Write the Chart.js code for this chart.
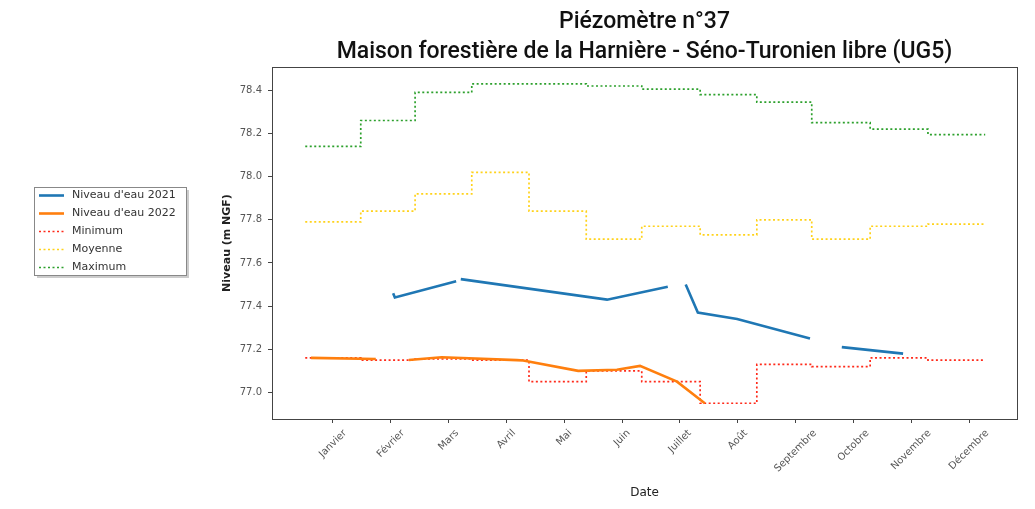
<!DOCTYPE html>
<html>
<head>
<meta charset="utf-8">
<script src="https://cdn.jsdelivr.net/npm/chart.js@4.4.1/dist/chart.umd.min.js"></script>
<style>
html,body{margin:0;padding:0;background:#fff;}
</style>
</head>
<body>
<canvas id="myChart" width="1035" height="509"></canvas>
<script>
// mois (positions 1..12 sur l'axe x)
const months = ['Janvier','Février','Mars','Avril','Mai','Juin','Juillet','Août','Septembre','Octobre','Novembre','Décembre'];
const monthTicks = [1,2,3,4,5,6,7,8,9,10,11,12];
const yTicks = [77.0,77.2,77.4,77.6,77.8,78.0,78.2,78.4];

// bords des paliers mensuels (min / moyenne / max)
const stepEdges = [0.52,1.48,2.42,3.40,4.39,5.38,6.34,7.35,8.33,9.28,10.29,11.29,12.28];
const minimum = [77.16,77.15,77.155,77.15,77.05,77.10,77.05,76.95,77.13,77.12,77.16,77.15];
const moyenne = [77.79,77.84,77.92,78.02,77.84,77.71,77.77,77.73,77.80,77.71,77.77,77.78];
const maximum = [78.14,78.26,78.39,78.43,78.43,78.42,78.405,78.38,78.345,78.25,78.22,78.195];

// mesures 2021 et 2022 (null = pas de mesure)
const dates2021 = [2.04,2.07,3.13,3.17,3.21,5.74,6.79,6.95,7.10,7.31,7.99,9.25,9.5,9.80,10.86];
const niveau2021 = [77.46,77.44,77.515,null,77.525,77.43,77.49,null,77.50,77.37,77.34,77.25,null,77.21,77.18];
const dates2022 = [0.62,1.74,2.0,2.31,2.88,4.18,4.29,5.24,5.91,6.31,6.95,7.43];
const niveau2022 = [77.16,77.155,null,77.15,77.163,77.15,77.148,77.10,77.105,77.123,77.05,76.95];

function pts(xs, ys){ return xs.map((x,i)=>({x:x,y:ys[i]})); }
function steps(vals){
  const p = vals.map((v,i)=>({x:stepEdges[i],y:v}));
  p.push({x:stepEdges[vals.length],y:vals[vals.length-1]});
  return p;
}

const frame = {
  id:'frame',
  afterDraw(chart){
    const a = chart.chartArea, ctx = chart.ctx;
    ctx.save();
    ctx.strokeStyle='#444'; ctx.lineWidth=1;
    ctx.strokeRect(Math.round(a.left)+0.5, Math.round(a.top)+0.5, Math.round(a.right-a.left), Math.round(a.bottom-a.top));
    ctx.restore();
  }
};

const monthLabels = {
  id:'monthLabels',
  afterDraw(chart){
    const sx = chart.scales.x, ctx = chart.ctx;
    const top = chart.chartArea.bottom + 9;
    ctx.save();
    ctx.font='10px "DejaVu Sans"'; ctx.fillStyle='#555';
    ctx.textAlign='center'; ctx.textBaseline='middle';
    sx.ticks.forEach((t,i)=>{
      const txt = months[i];
      const w = ctx.measureText(txt).width, h = 10;
      const x = sx.getPixelForValue(t.value);
      const y = top + (w+h)*Math.SQRT1_2/2;
      ctx.save(); ctx.translate(x,y); ctx.rotate(-Math.PI/4); ctx.fillText(txt,0,0); ctx.restore();
    });
    ctx.restore();
  }
};

const legendBox = {
  id:'legendBox',
  afterDraw(chart){
    const ctx = chart.ctx;
    ctx.save();
    ctx.fillStyle='#ccc'; ctx.fillRect(37,190,152,88);
    ctx.fillStyle='#fff'; ctx.fillRect(34.5,187.5,152,88);
    ctx.strokeStyle='#888'; ctx.lineWidth=1; ctx.strokeRect(34.5,187.5,152,88);
    chart.data.datasets.forEach((ds,i)=>{
      const y = 195.5 + i*18;
      ctx.beginPath();
      ctx.setLineDash(ds.borderDash || []);
      ctx.strokeStyle = ds.borderColor; ctx.lineWidth = ds.borderWidth;
      ctx.moveTo(39,y); ctx.lineTo(64,y); ctx.stroke();
      ctx.setLineDash([]);
      ctx.fillStyle='#333'; ctx.font='11px "DejaVu Sans"'; ctx.textBaseline='middle';
      ctx.fillText(ds.label,72,y);
    });
    ctx.restore();
  }
};

const ctx = document.getElementById('myChart').getContext('2d');
const chart = new Chart(ctx, {
  type:'line',
  data:{
    datasets:[
      {label:"Niveau d'eau 2021", data:pts(dates2021,niveau2021), borderColor:'#1f77b4', borderWidth:2.6, spanGaps:false},
      {label:"Niveau d'eau 2022", data:pts(dates2022,niveau2022), borderColor:'#ff7f0e', borderWidth:2.6, spanGaps:false},
      {label:'Minimum', data:steps(minimum), borderColor:'#ff2a1a', borderWidth:1.7, borderDash:[2,2.5], stepped:'before'},
      {label:'Moyenne', data:steps(moyenne), borderColor:'#ffd21a', borderWidth:1.7, borderDash:[2,2.5], stepped:'before'},
      {label:'Maximum', data:steps(maximum), borderColor:'#2ca02c', borderWidth:1.7, borderDash:[2,2.5], stepped:'before'}
    ]
  },
  options:{
    responsive:false,
    animation:false,
    layout:{padding:{left:200,right:18,top:0,bottom:0}},
    elements:{point:{radius:0}, line:{tension:0, fill:false}},
    plugins:{
      legend:{display:false},
      tooltip:{enabled:false},
      title:{
        display:true, fullSize:false,
        text:['Piézomètre n°37','Maison forestière de la Harnière - Séno-Turonien libre (UG5)'],
        font:{family:'Roboto', size:23, weight:'500', lineHeight:1.304},
        color:'#111', padding:{top:7,bottom:0}
      }
    },
    scales:{
      x:{
        type:'linear', min:-0.055, max:12.83,
        afterBuildTicks:s=>{ s.ticks = monthTicks.map(v=>({value:v})); },
        afterFit:s=>{ s.height = 90; },
        grid:{drawOnChartArea:false, drawTicks:true, tickLength:4, color:'#444'},
        border:{display:false},
        ticks:{display:false},
        title:{display:true, text:'Date', color:'#222', font:{family:'DejaVu Sans', size:12}, padding:{top:0,bottom:9}}
      },
      y:{
        type:'linear', min:76.877, max:78.508,
        afterBuildTicks:s=>{ s.ticks = yTicks.map(v=>({value:v})); },
        afterFit:s=>{ s.width = 72; },
        grid:{drawOnChartArea:false, drawTicks:true, tickLength:4, color:'#444'},
        border:{display:false},
        ticks:{padding:6, color:'#555', font:{family:'DejaVu Sans', size:10}, callback:v=>v.toFixed(1)},
        title:{display:true, text:'Niveau (m NGF)', color:'#222', font:{family:'DejaVu Sans', size:11, weight:'bold'}, padding:{top:21,bottom:0}}
      }
    }
  },
  plugins:[frame, monthLabels, legendBox]
});
</script>
</body>
</html>
